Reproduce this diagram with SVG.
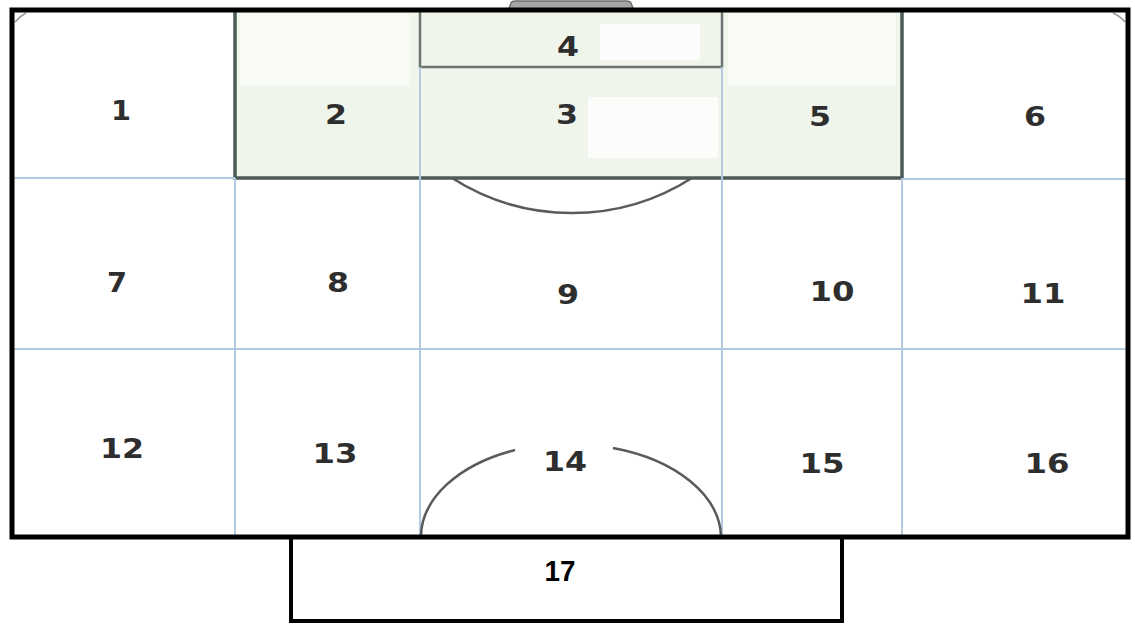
<svg xmlns="http://www.w3.org/2000/svg" width="1135" height="625" viewBox="0 0 1135 625">
<style>
.lbl{font-family:"DejaVu Sans",Verdana,sans-serif;font-weight:bold;font-size:26px;fill:#2e2e2e;text-anchor:middle}
.grid{stroke:#b3cbe0;stroke-width:2;fill:none}
.box{fill:none;stroke:#4d5a55;stroke-width:3.5}
.arc{fill:none;stroke:#5a5a5a;stroke-width:2.5}
</style>
<rect x="0" y="0" width="1135" height="625" fill="#ffffff"/>
<g id="goal">
<path d="M508,11 L511,3 Q512,1 516,1 L626,1 Q630,1 631,3 L634,11 Z" fill="#a6a6a6" stroke="#6e6e6e" stroke-width="1.5"/>
</g>
<g id="penalty-area">
<rect x="235" y="10" width="667" height="168" fill="#f0f5eb"/>
<rect x="240" y="14" width="170" height="72" fill="#f8faf6"/>
<rect x="728" y="14" width="168" height="72" fill="#f8faf6"/>
<rect x="600" y="24" width="100" height="36" fill="#fcfdfb"/>
<rect x="588" y="97" width="130" height="61" fill="#fcfdfb"/>
<rect x="235" y="10" width="667" height="168" class="box"/>
<rect x="420" y="10" width="302" height="57" fill="none" stroke="#6d7572" stroke-width="2.5"/>
</g>
<g id="connectors">
<line x1="12" y1="178" x2="235" y2="178" class="grid"/>
<line x1="902" y1="179" x2="1128" y2="179" class="grid"/>
<line x1="12" y1="349" x2="1128" y2="349" class="grid"/>
<line x1="235" y1="178" x2="235" y2="537" class="grid"/>
<line x1="420" y1="67" x2="420" y2="537" class="grid"/>
<line x1="722" y1="67" x2="722" y2="537" class="grid"/>
<line x1="902" y1="178" x2="902" y2="537" class="grid"/>
<path d="M452,178 A223,223 0 0 0 692,178" class="arc"/>
<path d="M421,536 A151,94 0 0 1 515,450" class="arc"/>
<path d="M613,448 A151,94 0 0 1 721,536" class="arc"/>
<path d="M15,22 Q20,16 26,13" fill="none" stroke="#999" stroke-width="1.5"/>
<path d="M1113,13 Q1120,16 1125,22" fill="none" stroke="#999" stroke-width="1.5"/>
</g>
<g id="pitch-border">
<rect x="12" y="10" width="1116" height="527" fill="none" stroke="#000" stroke-width="5"/>
</g>
<g id="zone-17">
<rect x="291" y="537" width="551" height="84" fill="none" stroke="#000" stroke-width="4"/>
<text x="560" y="581" font-family="'Liberation Sans',Arial,sans-serif" font-weight="bold" font-size="30" fill="#000" text-anchor="middle" textLength="31" lengthAdjust="spacingAndGlyphs">17</text>
</g>
<g id="zone-1"><text class="lbl" x="121" y="120" textLength="20" lengthAdjust="spacingAndGlyphs">1</text></g>
<g id="zone-2"><text class="lbl" x="336" y="124" textLength="22" lengthAdjust="spacingAndGlyphs">2</text></g>
<g id="zone-3"><text class="lbl" x="567" y="124" textLength="22" lengthAdjust="spacingAndGlyphs">3</text></g>
<g id="zone-4"><text class="lbl" x="568" y="56" textLength="22" lengthAdjust="spacingAndGlyphs">4</text></g>
<g id="zone-5"><text class="lbl" x="820" y="126" textLength="22" lengthAdjust="spacingAndGlyphs">5</text></g>
<g id="zone-6"><text class="lbl" x="1035" y="126" textLength="22" lengthAdjust="spacingAndGlyphs">6</text></g>
<g id="zone-7"><text class="lbl" x="117" y="292" textLength="20" lengthAdjust="spacingAndGlyphs">7</text></g>
<g id="zone-8"><text class="lbl" x="338" y="292" textLength="22" lengthAdjust="spacingAndGlyphs">8</text></g>
<g id="zone-9"><text class="lbl" x="568" y="304" textLength="22" lengthAdjust="spacingAndGlyphs">9</text></g>
<g id="zone-10"><text class="lbl" x="832" y="301" textLength="45" lengthAdjust="spacingAndGlyphs">10</text></g>
<g id="zone-11"><text class="lbl" x="1043" y="303" textLength="45" lengthAdjust="spacingAndGlyphs">11</text></g>
<g id="zone-12"><text class="lbl" x="122" y="458" textLength="44" lengthAdjust="spacingAndGlyphs">12</text></g>
<g id="zone-13"><text class="lbl" x="335" y="463" textLength="45" lengthAdjust="spacingAndGlyphs">13</text></g>
<g id="zone-14"><text class="lbl" x="565" y="471" textLength="44" lengthAdjust="spacingAndGlyphs">14</text></g>
<g id="zone-15"><text class="lbl" x="822" y="473" textLength="45" lengthAdjust="spacingAndGlyphs">15</text></g>
<g id="zone-16"><text class="lbl" x="1047" y="473" textLength="45" lengthAdjust="spacingAndGlyphs">16</text></g>
</svg>
